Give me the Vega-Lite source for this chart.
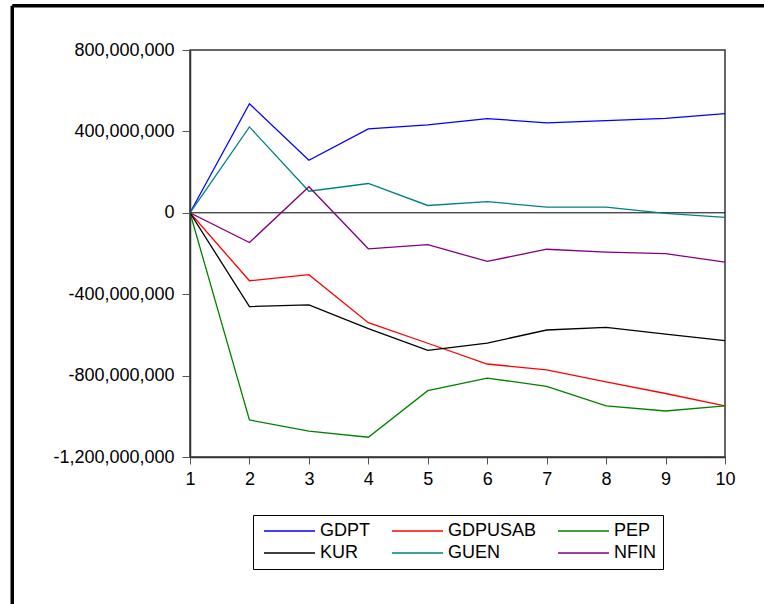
{
  "$schema": "https://vega.github.io/schema/vega-lite/v6.json",
  "width": 535,
  "height": 407,
  "autosize": {"type": "none"},
  "padding": {"left": 190, "top": 50, "right": 39, "bottom": 147},
  "background": "white",
  "config": {
    "font": "Liberation Sans",
    "view": {"stroke": "#333333", "strokeWidth": 1.5},
    "axis": {"grid": false, "labelFont": "Liberation Sans", "labelFontSize": 18, "labelColor": "#000000", "domainColor": "#333333", "domainWidth": 1.5, "tickColor": "#555555", "title": null}
  },
  "datasets": {
    "irf": [
      {"period": 1, "series": "GDPT", "value": 0},
      {"period": 2, "series": "GDPT", "value": 536000000},
      {"period": 3, "series": "GDPT", "value": 258000000},
      {"period": 4, "series": "GDPT", "value": 412000000},
      {"period": 5, "series": "GDPT", "value": 432000000},
      {"period": 6, "series": "GDPT", "value": 463000000},
      {"period": 7, "series": "GDPT", "value": 442000000},
      {"period": 8, "series": "GDPT", "value": 453000000},
      {"period": 9, "series": "GDPT", "value": 464000000},
      {"period": 10, "series": "GDPT", "value": 487000000},
      {"period": 1, "series": "GDPUSAB", "value": 0},
      {"period": 2, "series": "GDPUSAB", "value": -334000000},
      {"period": 3, "series": "GDPUSAB", "value": -304000000},
      {"period": 4, "series": "GDPUSAB", "value": -540000000},
      {"period": 5, "series": "GDPUSAB", "value": -641000000},
      {"period": 6, "series": "GDPUSAB", "value": -743000000},
      {"period": 7, "series": "GDPUSAB", "value": -772000000},
      {"period": 8, "series": "GDPUSAB", "value": -831000000},
      {"period": 9, "series": "GDPUSAB", "value": -888000000},
      {"period": 10, "series": "GDPUSAB", "value": -949000000},
      {"period": 1, "series": "PEP", "value": 0},
      {"period": 2, "series": "PEP", "value": -1018000000},
      {"period": 3, "series": "PEP", "value": -1073000000},
      {"period": 4, "series": "PEP", "value": -1103000000},
      {"period": 5, "series": "PEP", "value": -874000000},
      {"period": 6, "series": "PEP", "value": -812000000},
      {"period": 7, "series": "PEP", "value": -853000000},
      {"period": 8, "series": "PEP", "value": -949000000},
      {"period": 9, "series": "PEP", "value": -974000000},
      {"period": 10, "series": "PEP", "value": -949000000},
      {"period": 1, "series": "KUR", "value": 0},
      {"period": 2, "series": "KUR", "value": -461000000},
      {"period": 3, "series": "KUR", "value": -452000000},
      {"period": 4, "series": "KUR", "value": -569000000},
      {"period": 5, "series": "KUR", "value": -676000000},
      {"period": 6, "series": "KUR", "value": -640000000},
      {"period": 7, "series": "KUR", "value": -576000000},
      {"period": 8, "series": "KUR", "value": -563000000},
      {"period": 9, "series": "KUR", "value": -596000000},
      {"period": 10, "series": "KUR", "value": -628000000},
      {"period": 1, "series": "GUEN", "value": 0},
      {"period": 2, "series": "GUEN", "value": 422000000},
      {"period": 3, "series": "GUEN", "value": 106000000},
      {"period": 4, "series": "GUEN", "value": 144000000},
      {"period": 5, "series": "GUEN", "value": 36000000},
      {"period": 6, "series": "GUEN", "value": 55000000},
      {"period": 7, "series": "GUEN", "value": 28000000},
      {"period": 8, "series": "GUEN", "value": 28000000},
      {"period": 9, "series": "GUEN", "value": -3000000},
      {"period": 10, "series": "GUEN", "value": -22000000},
      {"period": 1, "series": "NFIN", "value": 0},
      {"period": 2, "series": "NFIN", "value": -146000000},
      {"period": 3, "series": "NFIN", "value": 128000000},
      {"period": 4, "series": "NFIN", "value": -177000000},
      {"period": 5, "series": "NFIN", "value": -156000000},
      {"period": 6, "series": "NFIN", "value": -239000000},
      {"period": 7, "series": "NFIN", "value": -179000000},
      {"period": 8, "series": "NFIN", "value": -193000000},
      {"period": 9, "series": "NFIN", "value": -201000000},
      {"period": 10, "series": "NFIN", "value": -242000000}
    ],
    "frame": [
      {"fx": -1.99, "fy": 1018000000, "fx2": 12, "fy2": -2200000000}
    ]
  },
  "layer": [
    {
      "data": {"name": "frame"},
      "mark": {"type": "rule", "color": "#000000", "strokeWidth": 3.5, "clip": false},
      "encoding": {
        "x": {"field": "fx", "type": "quantitative", "scale": {"domain": [1, 10], "nice": false}},
        "y": {"field": "fy", "type": "quantitative"},
        "y2": {"field": "fy2"}
      }
    },
    {
      "data": {"name": "frame"},
      "mark": {"type": "rule", "color": "#000000", "strokeWidth": 3.5, "clip": false},
      "encoding": {
        "x": {"field": "fx", "type": "quantitative"},
        "x2": {"field": "fx2"},
        "y": {"field": "fy", "type": "quantitative"}
      }
    },
    {
      "data": {"values": [{"zero": 0}]},
      "mark": {"type": "rule", "color": "#000000", "strokeWidth": 1},
      "encoding": {
        "y": {"field": "zero", "type": "quantitative"}
      }
    },
    {
      "data": {"name": "irf"},
      "mark": {"type": "line", "strokeWidth": 1.3, "clip": true},
      "encoding": {
        "x": {
          "field": "period",
          "type": "quantitative",
          "scale": {"domain": [1, 10], "nice": false, "zero": false},
          "axis": {"values": [1, 2, 3, 4, 5, 6, 7, 8, 9, 10], "format": "d", "tickSize": 7, "labelPadding": 6, "labelFlush": false}
        },
        "y": {
          "field": "value",
          "type": "quantitative",
          "scale": {"domain": [-1200000000, 800000000], "nice": false},
          "axis": {"values": [-1200000000, -800000000, -400000000, 0, 400000000, 800000000], "format": ",.0f", "labelExpr": "replace(datum.label, '\u2212', '-')", "tickSize": 8, "labelPadding": 8}
        },
        "color": {
          "field": "series",
          "type": "nominal",
          "scale": {
            "domain": ["GDPT", "KUR", "GDPUSAB", "GUEN", "PEP", "NFIN"],
            "range": ["#0000FF", "#000000", "#FF0000", "#008080", "#008000", "#800080"]
          },
          "legend": {
            "orient": "none",
            "legendX": 63,
            "legendY": 465,
            "title": null,
            "columns": 3,
            "symbolType": "M-1,0H9.2",
            "symbolSize": 100,
            "symbolStrokeWidth": 1.5,
            "labelFont": "Liberation Sans",
            "labelFontSize": 18,
            "labelColor": "#000000",
            "labelOffset": 42,
            "columnPadding": 17,
            "rowPadding": 4,
            "padding": 7,
            "strokeColor": "#000000",
            "fillColor": "#FFFFFF"
          }
        },
        "order": {"field": "period"}
      }
    }
  ]
}
